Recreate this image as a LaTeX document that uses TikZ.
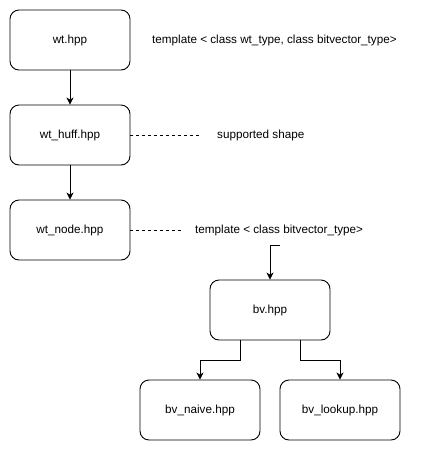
\documentclass[tikz,border=0pt]{standalone}
\usepackage{fontspec}
\setmainfont{Liberation Sans}
\usetikzlibrary{arrows.meta}
\begin{document}
\begin{tikzpicture}[x=1pt,y=-1pt,
  box/.style={draw,line width=0.9pt,rounded corners=9pt,minimum width=120pt,minimum height=60pt,inner sep=0pt,font=\fontsize{11.7}{14}\selectfont},
  lbl/.style={inner sep=0pt,font=\fontsize{11.7}{14}\selectfont},
  arr/.style={line width=0.9pt,-{Stealth[length=7pt,width=7pt,inset=2pt]}},
  dsh/.style={line width=0.7pt,dash pattern=on 3pt off 3pt}]
\useasboundingbox (0,0) rectangle (421,451);
\node[box] (wt) at (70,40) {wt.hpp};
\node[box] (huff) at (70,135) {wt\_huff.hpp};
\node[box] (node) at (70,230) {wt\_node.hpp};
\node[box] (bv) at (270,310) {bv.hpp};
\node[box] (naive) at (200,410) {bv\_naive.hpp};
\node[box] (lookup) at (340,410) {bv\_lookup.hpp};
\node[lbl,anchor=west] (t1) at (152,40) {template < class wt\_type, class bitvector\_type>};
\node[lbl,anchor=west] (t2) at (217,135) {supported shape};
\node[lbl,anchor=west] (t3) at (195,230) {template < class bitvector\_type>};
\coordinate (d1) at (200,135);
\coordinate (d2) at (182,230);
\coordinate (s) at (280,245);
\draw[arr] (wt) -- (huff);
\draw[arr] (huff) -- (node);
\draw[dsh] (huff.east) -- (d1);
\draw[dsh] (node.east) -- (d2);
\draw[arr] (s) -| (bv.north);
\draw[arr] ([xshift=-30pt]bv.south) -- ++(0,20) -| (naive.north);
\draw[arr] ([xshift=30pt]bv.south) -- ++(0,20) -| (lookup.north);
\end{tikzpicture}
\end{document}
